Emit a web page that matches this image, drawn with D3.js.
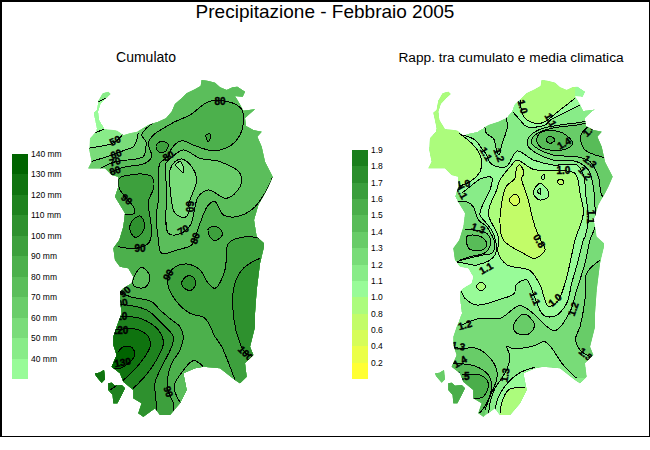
<!DOCTYPE html>
<html>
<head>
  <meta charset="utf-8">
  <title>Precipitazione - Febbraio 2005</title>
  <script src="https://d3js.org/d3.v7.min.js"></script>
  <style>
    body { margin: 0; background: #fff; }
    svg { display: block; font-family: "Liberation Sans", Arial, sans-serif; }
    .contour { fill: none; stroke: #000; stroke-width: 1; }
    .clabel { font-size: 10px; font-weight: bold; stroke: #000; stroke-width: 0.4; text-anchor: middle; dominant-baseline: central; }
    .leg { font-size: 8.5px; dominant-baseline: central; }
  </style>
</head>
<body>
  <svg width="650" height="450"></svg>
  <script>
    // map units: 3 units = 1 pixel of the picture
    const coast = [[85,35],[92,42],[78,55],[62,72],[55,95],[58,120],[75,148],[100,150],[112,152],[130,166],[150,160],[172,155],
      [205,135],[235,125],[258,115],[275,95],[285,72],[305,55],[320,40],[345,28],[362,18],[365,0],[385,3],[405,8],[420,22],
      [440,30],[458,22],[472,20],[495,35],[488,50],[465,48],[478,70],[490,92],[525,88],[505,105],[495,115],[498,138],
      [520,150],[545,155],[532,170],[545,200],[555,245],[578,290],[565,320],[555,340],[535,375],[522,420],[530,470],
      [552,490],[552,500],[540,550],[530,630],[525,700],[525,740],[510,800],[520,825],[495,850],[500,890],[480,910],
      [465,900],[420,865],[370,860],[345,865],[310,880],[320,930],[300,970],[270,1005],[240,1005],[225,985],[190,1010],
      [175,1000],[185,970],[160,955],[160,930],[130,905],[120,880],[95,860],[110,825],[100,795],[100,770],[110,740],
      [125,700],[120,660],[120,635],[130,625],[155,610],[160,590],[145,565],[120,560],[105,540],[100,505],[118,480],
      [130,440],[135,400],[105,350],[115,320],[115,290],[95,285],[75,265],[25,265],[35,245],[28,210],[30,175],[48,155],
      [50,145],[45,120],[40,98],[50,90],[55,62],[68,40]];
    const sanPietro = [[45,880],[58,878],[72,870],[75,898],[65,908],[58,900],[48,888]];
    const santAntioco = [[85,910],[95,908],[105,917],[125,915],[135,925],[125,945],[112,970],[100,970],[98,945],[85,930]];

    const cumulatoThresholds = [40,50,60,70,80,90,100,110,120,130];
    const cumulatoColors = ["#98fb98","#89ec89","#7adc7a","#6acd6a","#5bbe5b","#4cb04c","#3da03d","#2e912e","#1e821e","#0f730f","#006400"];
    const cumulatoTicks = ["140 mm","130 mm","120 mm","110 mm","100 mm","90 mm","80 mm","70 mm","60 mm","50 mm","40 mm"];

    const rapportoThresholds = [0.2,0.4,0.6,0.8,1.0,1.1,1.2,1.3,1.4,1.5,1.6,1.7,1.8];
    const rapportoColors = ["#ffff33","#ebff47","#d6fd58","#c2fc68","#acfc7c","#98fb98","#88ec88","#78dc78","#68cc68","#58bc58","#4aae4a","#3a9e3c","#2a8e2c","#1a7e1c"];
    const rapportoTicks = ["1.9","1.8","1.7","1.6","1.5","1.4","1.3","1.2","1.1","1.0","0.8","0.6","0.4","0.2"];

    // [colour band, contour points, points outside the coast that close the area (none = closed loop)]
    const cumulatoContours = [
      [40, [[45,158],[72,148]], [[100,120],[100,-50],[700,-50],[700,1100],[-50,1100],[-50,200],[10,170]]],
      [40, [[40,72],[55,65],[70,58],[92,50]], [[110,20],[60,10]]],
      [50, [[25,205],[60,199],[98,190],[118,175],[130,160]], [[130,-50],[700,-50],[700,1100],[-50,1100],[-50,210]]],
      [60, [[30,246],[65,235],[95,225],[130,212],[160,200],[170,180],[175,158]], [[175,-50],[700,-50],[700,1100],[-50,1100],[-50,250]]],
      [70, [[60,265],[100,247],[125,242],[190,230],[197,205],[198,185],[185,165],[210,135],[235,120]], [[235,-50],[700,-50],[700,1100],[-50,1100],[-50,265]]],
      [80, [[90,278],[130,262],[195,250],[215,230],[205,190],[220,165],[245,148],[285,125],[330,105],[385,65],[420,62],[460,70],[485,88],[490,130],[480,165],[455,195],[420,210],[385,210],[340,195],[305,182],[275,205],[265,228],[240,250],[235,290],[235,360],[230,400],[235,480],[245,520],[290,510],[335,495],[345,475],[360,430],[385,375],[405,365],[430,405],[470,410],[520,385],[560,330],[578,290]], [[700,290],[700,1100],[-50,1100],[-50,278]]],
      [90, [[130,405],[163,400],[163,385],[142,358],[118,325],[118,295],[150,285],[185,282],[215,290],[222,320],[205,365],[210,410],[215,460],[205,490],[165,505],[115,500]], [[-50,500],[-50,405]]],
      [90, [[232,190],[250,185],[265,195],[255,215],[235,215],[228,200]]],
      [90, [[378,165],[390,162],[392,172],[385,185]]],
      [90, [[385,445],[410,440],[428,462],[405,482],[390,470]]],
      [100, [[180,408],[193,430],[185,460],[165,472],[150,450],[155,425]]],
      [90, [[550,478],[500,470],[445,490],[440,530],[432,580],[405,625],[385,610],[360,570],[320,552],[280,565],[265,590],[265,620],[290,665],[330,700],[375,715],[405,770],[425,800],[450,860],[465,900]], [[465,1100],[700,1100],[700,478]]],
      [100, [[305,610],[318,590],[338,590],[347,610],[335,630],[318,628]]],
      [100, [[540,535],[490,565],[462,620],[462,720],[480,790],[497,820],[520,830]], [[700,830],[700,535]]],
      [90, [[120,635],[150,650],[215,665],[240,690],[275,720],[300,740],[310,770],[300,810],[275,850],[262,900],[265,935],[280,970],[278,1010]], [[200,1100],[-50,1100],[-50,635]]],
      [100, [[115,672],[200,690],[250,735],[280,770],[275,800],[240,870],[225,910],[230,980],[232,1020]], [[150,1100],[-50,1100],[-50,672]]],
      [110, [[120,710],[180,715],[235,750],[250,790],[210,870],[160,925]], [[150,950],[140,1000],[-50,1000],[-50,710]]],
      [120, [[105,750],[170,748],[205,770],[210,800],[180,850],[125,905],[90,930]], [[-50,930],[-50,750]]],
      [130, [[115,815],[130,800],[155,802],[165,825],[145,850],[120,865],[95,865]], [[60,865],[60,815]]],
      [70, [[302,970],[285,935],[285,910],[300,885],[340,842],[370,860]], [[400,900],[400,1050],[302,1050]]],
      [70, [[185,562],[210,590],[195,622],[165,620],[158,610],[165,585]]],
      [60, [[258,250],[260,330],[265,460],[295,463],[330,437],[355,350],[385,330],[440,355],[480,320],[480,280],[420,245],[360,235],[310,210],[275,232]]],
      [50, [[285,245],[270,270],[272,340],[285,400],[315,412],[327,395],[327,370],[350,300],[335,260],[305,237]]],
      [40, [[287,255],[300,245],[310,262],[310,278],[295,265]]]
    ];

    const rapportoContours = [
      [1.0, [[130,165],[165,180],[185,205],[198,222],[212,250],[245,262],[262,258],[275,235],[292,213],[340,240],[400,255],[470,255],[490,285],[498,350],[505,420],[495,470],[490,480],[475,540],[455,610],[440,670],[405,708],[370,705],[345,655],[320,600],[288,615],[283,640],[240,658],[170,675],[135,655],[122,630],[100,600],[110,550],[170,555],[225,525],[220,460],[195,425],[180,405],[190,370],[210,330],[215,293],[185,295],[150,320],[125,340]], [[-50,340],[-50,-50],[130,-50]]],
      [0.8, [[118,160],[155,190],[178,220],[185,245],[180,275],[150,305],[118,318]], [[-50,318],[-50,-50],[118,-50]]],
      [1.0, [[278,95],[300,120],[320,140],[375,135],[392,120],[430,100],[480,75],[510,55]], [[510,-50],[278,-50]]],
      [0.8, [[300,60],[310,108],[330,125],[360,130],[375,125],[420,90],[465,55]], [[470,-50],[300,-50]]],
      [0.8, [[275,255],[240,300],[230,330],[205,400],[235,470],[235,520],[262,555],[330,572],[360,615],[385,678],[412,665],[435,610],[452,540],[465,480],[490,400],[480,340],[465,280],[410,272],[340,268],[290,240]]],
      [0.6, [[290,262],[300,255],[312,280],[305,295],[322,350],[345,440],[362,480],[375,510],[345,535],[310,520],[250,480],[240,430],[245,370],[258,320],[285,295]]],
      [0.4, [[270,355],[285,342],[298,355],[295,372],[280,375],[270,365]]],
      [1.0, [[340,335],[360,310],[385,335],[385,350],[360,360],[345,350]]],
      [1.1, [[352,335],[360,325],[362,342]]],
      [0.6, [[412,305],[422,297],[432,307],[422,315]]],
      [1.0, [[365,290],[372,283],[374,295],[368,300]]],
      [0.8, [[168,620],[183,607],[198,620],[183,632]]],
      [1.2, [[195,135],[198,158],[222,178],[228,205],[237,225],[245,195],[262,140],[258,110]], [[230,80],[190,100]]],
      [1.2, [[105,365],[140,365],[160,380],[175,420],[200,440],[225,495],[215,520],[190,525],[145,535],[110,545]], [[60,545],[60,365]]],
      [1.3, [[135,450],[160,450],[200,460],[212,490],[195,518],[150,530],[120,540]], [[60,540],[60,450]]],
      [1.4, [[140,470],[160,465],[190,475],[200,495],[185,510],[150,508],[140,490]]],
      [1.2, [[515,108],[500,122],[420,135],[360,148],[328,170],[322,195],[350,220],[400,240],[470,245],[505,270],[520,320],[525,380],[525,440],[510,480],[495,550],[470,630],[450,695],[405,752],[375,735],[345,705],[300,677],[240,715],[180,715],[125,735]], [[-50,735],[-50,1100],[700,1100],[700,108]]],
      [1.3, [[520,125],[470,135],[410,142],[370,152],[340,170],[335,190],[360,210],[400,225],[480,232],[510,245],[535,290],[545,345],[565,370]], [[700,370],[700,125]]],
      [1.4, [[350,180],[362,158],[395,152],[430,160],[458,190],[435,208],[390,210],[360,200]]],
      [1.5, [[378,180],[390,168],[405,180],[390,190]]],
      [1.4, [[530,125],[505,140],[485,160],[482,180],[495,210],[550,232],[600,240]], [[600,125]]],
      [1.3, [[540,540],[500,580],[497,640],[480,740],[467,775],[480,810],[510,830]], [[600,830],[600,540]]],
      [1.3, [[282,732],[312,702],[342,730],[335,755],[312,765],[285,755]]],
      [1.1, [[470,895],[430,855],[375,785],[340,798],[275,805],[260,798],[270,830],[262,865],[245,895],[225,925],[212,960],[205,1010]], [[205,1100],[600,1100],[600,895]]],
      [1.3, [[100,803],[130,805],[170,805],[215,840],[232,880],[228,905],[210,950],[195,990]], [[185,1100],[-50,1100],[-50,803]]],
      [1.4, [[95,850],[165,858],[205,885],[215,920],[200,970],[178,1000]], [[170,1100],[60,1100],[75,930]]],
      [1.5, [[125,885],[180,885],[205,910],[190,950],[160,955]], [[140,1000],[80,1000],[80,905]]],
      [1.0, [[345,862],[300,878],[262,910],[232,960],[225,1000]], [[225,1100],[400,1100],[400,880]]],
      [0.8, [[315,922],[265,930],[245,970],[240,1000]], [[240,1100],[400,1100],[400,922]]]
    ];

    // [text, x, y, rotation]
    const cumulatoLabels = [["80",420,65,0],["50",105,182,-25],["60",108,222,-20],["70",105,245,-15],["80",105,272,-20],
      ["80",265,228,-30],["90",140,358,40],["60",327,380,90],["70",310,450,-30],["80",345,475,-70],["90",180,505,0],
      ["90",265,585,-60],["90",135,635,-40],["100",118,670,-10],["110",118,710,0],["120",120,752,0],["130",128,847,-10],
      ["90",265,935,70],["100",497,820,45]];
    const rapportoLabels = [["1.0",308,80,75],["1.1",392,120,60],["1.4",432,190,-30],["1.4",508,150,-45],["1.1",198,222,60],
      ["1.2",237,225,70],["1.3",510,245,40],["1.2",495,280,50],["1.0",430,270,0],["1.0",130,312,-10],["1.1",125,337,60],
      ["1.3",175,445,20],["1.1",510,410,90],["0.8",358,483,60],["1.1",198,565,-30],["1.1",345,655,70],["1.0",405,660,-40],
      ["1.2",460,687,-70],["1.2",135,735,-15],["1.3",115,798,10],["1.4",120,845,-30],["1.5",128,890,0],["1.3",255,885,-80],
      ["1.3",497,823,40]];

    const svg = d3.select("svg").attr("shape-rendering", "crispEdges");

    svg.append("rect").attr("x", 0.75).attr("y", 0.75).attr("width", 648.5).attr("height", 435.5)
      .attr("fill", "#fff").attr("stroke", "#000").attr("stroke-width", 1.5);

    svg.append("text").attr("x", 325).attr("y", 11).attr("text-anchor", "middle").attr("dominant-baseline", "central")
      .attr("font-size", 19).text("Precipitazione - Febbraio 2005");
    svg.append("text").attr("x", 146).attr("y", 57).attr("text-anchor", "middle").attr("dominant-baseline", "central")
      .attr("font-size", 14).text("Cumulato");
    svg.append("text").attr("x", 511).attr("y", 57).attr("text-anchor", "middle").attr("dominant-baseline", "central")
      .attr("font-size", 13.7).text("Rapp. tra cumulato e media climatica");

    const y = d3.scaleLinear().domain([0, 1050]).range([80, 430]);

    function drawMap(id, pixelLeft, thresholds, colors, contours, labels) {
      const x = d3.scaleLinear().domain([0, 600]).range([pixelLeft, pixelLeft + 200]);
      const color = d3.scaleThreshold().domain(thresholds).range(colors);
      const open = d3.line().x(d => x(d[0])).y(d => y(d[1])).curve(d3.curveCatmullRom);
      const loop = d3.line().x(d => x(d[0])).y(d => y(d[1])).curve(d3.curveCatmullRomClosed);
      const plain = d3.line().x(d => x(d[0])).y(d => y(d[1])).curve(d3.curveLinearClosed);
      const land = [coast, sanPietro, santAntioco];

      svg.append("clipPath").attr("id", id).selectAll("path").data(land).join("path").attr("d", plain);
      const g = svg.append("g").attr("clip-path", `url(#${id})`);

      g.selectAll("path.land").data(land).join("path").attr("class", "land")
        .attr("d", plain).attr("fill", contours.base);

      g.selectAll("path.band").data(contours.list).join("path").attr("class", "band")
        .attr("fill", d => color(d[0]))
        .attr("d", d => d[2]
          ? open(d[1]) + d[2].map(p => `L${x(p[0])},${y(p[1])}`).join("") + "Z"
          : loop(d[1]));

      g.selectAll("path.contour").data(contours.list).join("path").attr("class", "contour")
        .attr("d", d => d[2] ? open(d[1]) : loop(d[1]));

      g.selectAll("text").data(labels).join("text").attr("class", "clabel")
        .attr("transform", d => `translate(${x(d[1])},${y(d[2])}) rotate(${d[3]})`)
        .text(d => d[0]);
    }

    function drawLegend(left, top, bottom, ticks, colors) {
      const band = d3.scaleBand().domain(ticks).range([top, bottom]);
      const reversed = colors.slice().reverse();
      svg.append("g").selectAll("rect").data(ticks).join("rect")
        .attr("x", left).attr("width", 16)
        .attr("y", d => band(d)).attr("height", band.bandwidth())
        .attr("fill", (d, i) => reversed[i]);
      svg.append("g").selectAll("text").data(ticks).join("text").attr("class", "leg")
        .attr("x", left + 19).attr("y", d => band(d)).text(d => d);
    }

    drawMap("clipCumulato", 80, cumulatoThresholds, cumulatoColors,
      { base: cumulatoColors[0], list: cumulatoContours }, cumulatoLabels);
    drawMap("clipRapporto", 420, rapportoThresholds, rapportoColors,
      { base: rapportoColors[6], list: rapportoContours }, rapportoLabels);

    drawLegend(12, 154, 379, cumulatoTicks, cumulatoColors);
    drawLegend(352, 150, 379, rapportoTicks, rapportoColors);
  </script>
</body>
</html>
